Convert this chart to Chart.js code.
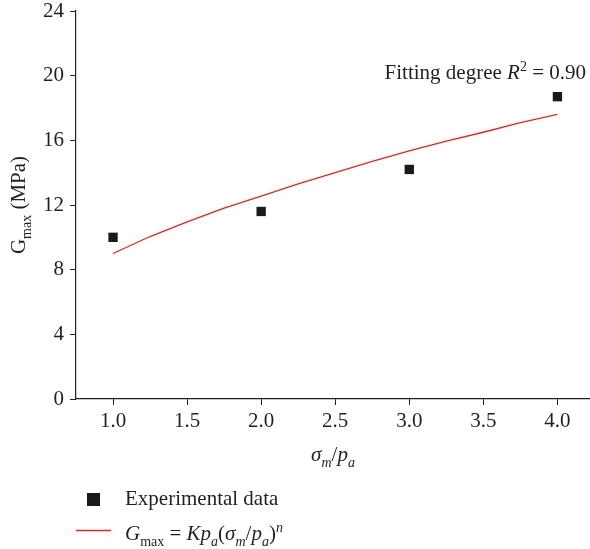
<!DOCTYPE html>
<html>
<head>
<meta charset="utf-8">
<script src="https://cdn.jsdelivr.net/npm/chart.js@4.4.0/dist/chart.umd.min.js"></script>
<style>
  html, body { margin: 0; padding: 0; background: #fff; overflow: hidden; }
  #wrap { width: 590px; height: 549px; }
  canvas { display: block; }
</style>
</head>
<body>
<div id="wrap"><canvas id="gmaxChart" width="590" height="549"></canvas></div>
<script>
// experimental points
const expX = [1.0, 2.0, 3.0, 4.0];
const expY = [10.0, 11.6, 14.2, 18.7];

// fitted curve
const fitX = [1.0, 1.25, 1.5, 1.75, 2.0, 2.25, 2.5, 2.75, 3.0, 3.25, 3.5, 3.75, 4.0];
const fitY = [9.0, 10.05, 10.95, 11.8, 12.55, 13.3, 14.0, 14.7, 15.35, 15.95, 16.5, 17.1, 17.6];

// axis ticks
const xTicks = [1.0, 1.5, 2.0, 2.5, 3.0, 3.5, 4.0];
const yTicks = [0, 4, 8, 12, 16, 20, 24];

const FONT = '"Liberation Serif", "Times New Roman", serif';
const TXT = '#231f20';
const RED = '#e5261d';
const FS = 21;

// draw a run of text pieces (italic / subscript / superscript)
function drawRich(ctx, parts, x, y, size, align) {
    const fontFor = p => (p.i ? 'italic ' : '') + Math.round((p.sub || p.sup) ? size * 0.66 : size) + 'px ' + FONT;
    let w = 0;
    parts.forEach(p => { ctx.font = fontFor(p); w += ctx.measureText(p.t).width; });
    let cx = align === 'center' ? x - w / 2 : (align === 'right' ? x - w : x);
    ctx.textAlign = 'left';
    ctx.textBaseline = 'alphabetic';
    ctx.fillStyle = TXT;
    parts.forEach(p => {
        ctx.font = fontFor(p);
        const dy = p.sub ? size * 0.28 : (p.sup ? -size * 0.38 : 0);
        ctx.fillText(p.t, cx, y + dy);
        cx += ctx.measureText(p.t).width;
    });
}

const textPlugin = {
    id: 'texts',
    afterDraw(chart) {
        const ctx = chart.ctx;

        // y axis title
        ctx.save();
        ctx.translate(18, 205);
        ctx.rotate(-Math.PI / 2);
        drawRich(ctx, [{ t: 'G' }, { t: 'max', sub: true }, { t: ' (MPa)' }], 0, 7, FS, 'center');
        ctx.restore();

        // x axis title
        drawRich(ctx, [
            { t: 'σ', i: true }, { t: 'm', i: true, sub: true }, { t: '/' },
            { t: 'p', i: true }, { t: 'a', i: true, sub: true }
        ], 333, 461, FS, 'center');

        // fitting degree note
        drawRich(ctx, [
            { t: 'Fitting degree ' }, { t: 'R', i: true }, { t: '2', sup: true }, { t: ' = 0.90' }
        ], 586, 79, FS, 'right');

        // legend
        ctx.fillStyle = '#1a1a1a';
        ctx.fillRect(87, 493, 13, 13);
        drawRich(ctx, [{ t: 'Experimental data' }], 125, 505, FS, 'left');

        ctx.strokeStyle = RED;
        ctx.lineWidth = 1.3;
        ctx.beginPath();
        ctx.moveTo(76, 530.5);
        ctx.lineTo(111, 530.5);
        ctx.stroke();
        drawRich(ctx, [
            { t: 'G', i: true }, { t: 'max', sub: true }, { t: ' = ' },
            { t: 'K', i: true }, { t: 'p', i: true }, { t: 'a', i: true, sub: true },
            { t: '(' }, { t: 'σ', i: true }, { t: 'm', i: true, sub: true }, { t: '/' },
            { t: 'p', i: true }, { t: 'a', i: true, sub: true }, { t: ')' },
            { t: 'n', i: true, sup: true }
        ], 125, 540, FS, 'left');
    }
};

const expData = expX.map((x, i) => ({ x: x, y: expY[i] }));
const fitData = fitX.map((x, i) => ({ x: x, y: fitY[i] }));

function axisStyle() {
    return {
        grid: { drawOnChartArea: false, drawTicks: true, tickLength: 6, color: TXT, lineWidth: 1 },
        border: { display: true, color: TXT, width: 1.2 },
        ticks: { color: TXT, font: { family: FONT, size: FS }, padding: 5, maxRotation: 0, autoSkip: false }
    };
}

const xAxis = axisStyle();
xAxis.type = 'linear';
xAxis.min = 0.75;
xAxis.max = 4.22;
xAxis.afterFit = s => { s.height = 150; s.paddingLeft = 0; s.paddingRight = 0; };
xAxis.afterBuildTicks = s => { s.ticks = xTicks.map(v => ({ value: v })); };
xAxis.ticks.callback = v => Number(v).toFixed(1);
xAxis.ticks.padding = 4;

const yAxis = axisStyle();
yAxis.min = 0;
yAxis.max = 24;
yAxis.afterFit = s => { s.width = 76; s.paddingTop = 0; s.paddingBottom = 0; };
yAxis.afterBuildTicks = s => { s.ticks = yTicks.map(v => ({ value: v })); };
yAxis.ticks.callback = v => v;
yAxis.ticks.padding = 6;

new Chart(document.getElementById('gmaxChart'), {
    type: 'scatter',
    data: {
        datasets: [{
            label: 'Experimental data',
            data: expData,
            pointStyle: 'rect',
            pointRadius: 6.6,
            backgroundColor: '#1a1a1a',
            borderWidth: 0,
            showLine: false
        }, {
            label: 'Fit',
            data: fitData,
            showLine: true,
            borderColor: RED,
            borderWidth: 1.3,
            pointRadius: 0,
            fill: false,
            tension: 0
        }]
    },
    options: {
        responsive: false,
        animation: false,
        layout: { autoPadding: false, padding: { top: 11, right: 0, left: 0, bottom: 0 } },
        plugins: { legend: { display: false }, tooltip: { enabled: false } },
        scales: { x: xAxis, y: yAxis }
    },
    plugins: [textPlugin]
});
</script>
</body>
</html>
